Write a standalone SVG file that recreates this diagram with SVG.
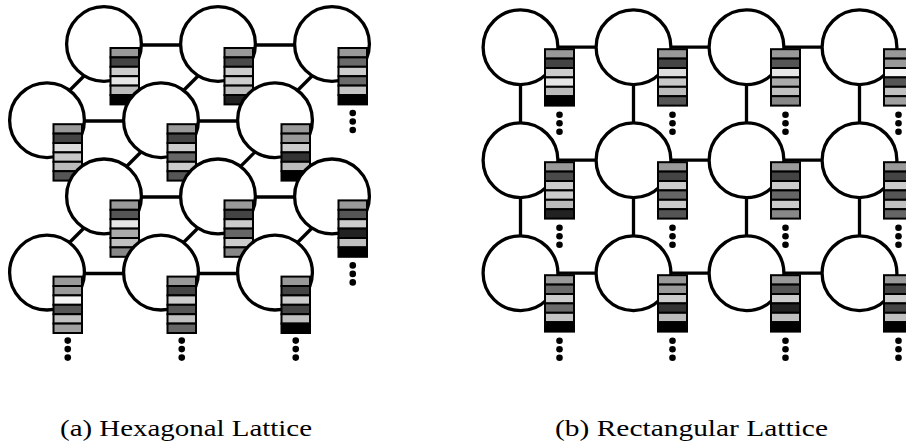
<svg xmlns="http://www.w3.org/2000/svg" width="906" height="446" viewBox="0 0 906 446">
<style>
  .node { fill: #fff; stroke: #000; stroke-width: 3.3; }
  .edge line { stroke: #000; stroke-width: 3.3; }
  .bar { stroke: #000; stroke-width: 2; }
  .dot { fill: #000; }
  .cap { font-family: "Liberation Serif", "Times New Roman", serif; font-size: 24px; fill: #000; }
  .k00 { fill: #000; } .k22 { fill: #222; } .k33 { fill: #333; } .k44 { fill: #444; }
  .k4a { fill: #4a4a4a; } .k55 { fill: #555; } .k66 { fill: #666; } .k6a { fill: #6a6a6a; }
  .k88 { fill: #888; } .k99 { fill: #999; } .ka0 { fill: #a0a0a0; } .kaa { fill: #aaa; }
  .kbb { fill: #bbb; } .kc0 { fill: #c0c0c0; } .kc4 { fill: #c4c4c4; } .kc8 { fill: #c8c8c8; }
  .kcc { fill: #ccc; } .kdd { fill: #ddd; } .ke6 { fill: #e6e6e6; } .kf5 { fill: #f5f5f5; }
</style>

<!-- ===== (a) hexagonal lattice ===== -->
<g id="hex-edges" class="edge">
  <line x1="104" y1="45" x2="218" y2="45"/>
  <line x1="218" y1="45" x2="332" y2="45"/>
  <line x1="47" y1="121" x2="161" y2="121"/>
  <line x1="161" y1="121" x2="275" y2="121"/>
  <line x1="104" y1="197" x2="218" y2="197"/>
  <line x1="218" y1="197" x2="332" y2="197"/>
  <line x1="47" y1="273.5" x2="161" y2="273.5"/>
  <line x1="161" y1="273.5" x2="275" y2="273.5"/>
  <line x1="60" y1="100" x2="95" y2="65"/>
  <line x1="174" y1="100" x2="209" y2="65"/>
  <line x1="288" y1="100" x2="323" y2="65"/>
  <line x1="117" y1="176" x2="150" y2="143"/>
  <line x1="231" y1="176" x2="264" y2="143"/>
  <line x1="60" y1="252" x2="95" y2="217"/>
  <line x1="174" y1="252" x2="209" y2="217"/>
  <line x1="288" y1="252" x2="323" y2="217"/>
</g>

<g id="hex-r1c1" transform="translate(104,44)">
  <circle class="node" r="37.4"/>
  <g class="bar" transform="translate(6.5,4)">
    <rect class="k99" y="0" width="28.5" height="9.4"/><rect class="k44" y="9.4" width="28.5" height="9.4"/>
    <rect class="kcc" y="18.8" width="28.5" height="9.4"/><rect class="ke6" y="28.2" width="28.5" height="9.4"/>
    <rect class="kbb" y="37.6" width="28.5" height="9.4"/><rect class="k00" y="47" width="28.5" height="9.4"/>
  </g>
</g>
<g id="hex-r1c2" transform="translate(218,44)">
  <circle class="node" r="37.4"/>
  <g class="bar" transform="translate(6.5,4)">
    <rect class="k99" y="0" width="28.5" height="9.4"/><rect class="k4a" y="9.4" width="28.5" height="9.4"/>
    <rect class="kcc" y="18.8" width="28.5" height="9.4"/><rect class="kcc" y="28.2" width="28.5" height="9.4"/>
    <rect class="kbb" y="37.6" width="28.5" height="9.4"/><rect class="k22" y="47" width="28.5" height="9.4"/>
  </g>
</g>
<g id="hex-r1c3" transform="translate(332,44)">
  <circle class="node" r="37.4"/>
  <g class="bar" transform="translate(6.5,4)">
    <rect class="k99" y="0" width="28.5" height="9.4"/><rect class="k6a" y="9.4" width="28.5" height="9.4"/>
    <rect class="kcc" y="18.8" width="28.5" height="9.4"/><rect class="k6a" y="28.2" width="28.5" height="9.4"/>
    <rect class="kc4" y="37.6" width="28.5" height="9.4"/><rect class="k00" y="47" width="28.5" height="9.4"/>
  </g>
  <circle class="dot" cx="20.75" cy="69" r="3.3"/><circle class="dot" cx="20.75" cy="77.5" r="3.3"/><circle class="dot" cx="20.75" cy="86" r="3.3"/>
</g>

<g id="hex-r2c1" transform="translate(47,120.2)">
  <circle class="node" r="37.4"/>
  <g class="bar" transform="translate(6.5,4)">
    <rect class="k99" y="0" width="28.5" height="9.4"/><rect class="k44" y="9.4" width="28.5" height="9.4"/>
    <rect class="kdd" y="18.8" width="28.5" height="9.4"/><rect class="kc8" y="28.2" width="28.5" height="9.4"/>
    <rect class="kbb" y="37.6" width="28.5" height="9.4"/><rect class="k55" y="47" width="28.5" height="9.4"/>
  </g>
</g>
<g id="hex-r2c2" transform="translate(161,120.2)">
  <circle class="node" r="37.4"/>
  <g class="bar" transform="translate(6.5,4)">
    <rect class="k99" y="0" width="28.5" height="9.4"/><rect class="k44" y="9.4" width="28.5" height="9.4"/>
    <rect class="kcc" y="18.8" width="28.5" height="9.4"/><rect class="k66" y="28.2" width="28.5" height="9.4"/>
    <rect class="kcc" y="37.6" width="28.5" height="9.4"/><rect class="k55" y="47" width="28.5" height="9.4"/>
  </g>
</g>
<g id="hex-r2c3" transform="translate(275,120.2)">
  <circle class="node" r="37.4"/>
  <g class="bar" transform="translate(6.5,4)">
    <rect class="k99" y="0" width="28.5" height="9.4"/><rect class="k99" y="9.4" width="28.5" height="9.4"/>
    <rect class="kcc" y="18.8" width="28.5" height="9.4"/><rect class="k33" y="28.2" width="28.5" height="9.4"/>
    <rect class="kbb" y="37.6" width="28.5" height="9.4"/><rect class="k00" y="47" width="28.5" height="9.4"/>
  </g>
</g>

<g id="hex-r3c1" transform="translate(104,196.4)">
  <circle class="node" r="37.4"/>
  <g class="bar" transform="translate(6.5,4)">
    <rect class="k99" y="0" width="28.5" height="9.4"/><rect class="k55" y="9.4" width="28.5" height="9.4"/>
    <rect class="ke6" y="18.8" width="28.5" height="9.4"/><rect class="kaa" y="28.2" width="28.5" height="9.4"/>
    <rect class="kc0" y="37.6" width="28.5" height="9.4"/><rect class="k88" y="47" width="28.5" height="9.4"/>
  </g>
</g>
<g id="hex-r3c2" transform="translate(218,196.4)">
  <circle class="node" r="37.4"/>
  <g class="bar" transform="translate(6.5,4)">
    <rect class="k99" y="0" width="28.5" height="9.4"/><rect class="k44" y="9.4" width="28.5" height="9.4"/>
    <rect class="kcc" y="18.8" width="28.5" height="9.4"/><rect class="k66" y="28.2" width="28.5" height="9.4"/>
    <rect class="kcc" y="37.6" width="28.5" height="9.4"/><rect class="k88" y="47" width="28.5" height="9.4"/>
  </g>
</g>
<g id="hex-r3c3" transform="translate(332,196.4)">
  <circle class="node" r="37.4"/>
  <g class="bar" transform="translate(6.5,4)">
    <rect class="k99" y="0" width="28.5" height="9.4"/><rect class="k55" y="9.4" width="28.5" height="9.4"/>
    <rect class="kcc" y="18.8" width="28.5" height="9.4"/><rect class="k22" y="28.2" width="28.5" height="9.4"/>
    <rect class="kc0" y="37.6" width="28.5" height="9.4"/><rect class="k00" y="47" width="28.5" height="9.4"/>
  </g>
  <circle class="dot" cx="20.75" cy="69" r="3.3"/><circle class="dot" cx="20.75" cy="77.5" r="3.3"/><circle class="dot" cx="20.75" cy="86" r="3.3"/>
</g>

<g id="hex-r4c1" transform="translate(47,272.6)">
  <circle class="node" r="37.4"/>
  <g class="bar" transform="translate(6.5,4)">
    <rect class="k99" y="0" width="28.5" height="9.4"/><rect class="k99" y="9.4" width="28.5" height="9.4"/>
    <rect class="kf5" y="18.8" width="28.5" height="9.4"/><rect class="k55" y="28.2" width="28.5" height="9.4"/>
    <rect class="kc0" y="37.6" width="28.5" height="9.4"/><rect class="ka0" y="47" width="28.5" height="9.4"/>
  </g>
  <circle class="dot" cx="20.75" cy="68" r="3.3"/><circle class="dot" cx="20.75" cy="76.5" r="3.3"/><circle class="dot" cx="20.75" cy="85" r="3.3"/>
</g>
<g id="hex-r4c2" transform="translate(161,272.6)">
  <circle class="node" r="37.4"/>
  <g class="bar" transform="translate(6.5,4)">
    <rect class="k99" y="0" width="28.5" height="9.4"/><rect class="k44" y="9.4" width="28.5" height="9.4"/>
    <rect class="kcc" y="18.8" width="28.5" height="9.4"/><rect class="k55" y="28.2" width="28.5" height="9.4"/>
    <rect class="kc0" y="37.6" width="28.5" height="9.4"/><rect class="k66" y="47" width="28.5" height="9.4"/>
  </g>
  <circle class="dot" cx="20.75" cy="68" r="3.3"/><circle class="dot" cx="20.75" cy="76.5" r="3.3"/><circle class="dot" cx="20.75" cy="85" r="3.3"/>
</g>
<g id="hex-r4c3" transform="translate(275,272.6)">
  <circle class="node" r="37.4"/>
  <g class="bar" transform="translate(6.5,4)">
    <rect class="k99" y="0" width="28.5" height="9.4"/><rect class="k44" y="9.4" width="28.5" height="9.4"/>
    <rect class="kcc" y="18.8" width="28.5" height="9.4"/><rect class="k44" y="28.2" width="28.5" height="9.4"/>
    <rect class="kc0" y="37.6" width="28.5" height="9.4"/><rect class="k00" y="47" width="28.5" height="9.4"/>
  </g>
  <circle class="dot" cx="20.75" cy="68" r="3.3"/><circle class="dot" cx="20.75" cy="76.5" r="3.3"/><circle class="dot" cx="20.75" cy="85" r="3.3"/>
</g>

<!-- ===== (b) rectangular lattice ===== -->
<g id="rect-edges" class="edge">
  <line x1="520.5" y1="47.2" x2="859.5" y2="47.2"/>
  <line x1="520.5" y1="160.2" x2="859.5" y2="160.2"/>
  <line x1="520.5" y1="273.2" x2="859.5" y2="273.2"/>
  <line x1="520.5" y1="47.2" x2="520.5" y2="273.2"/>
  <line x1="633.5" y1="47.2" x2="633.5" y2="273.2"/>
  <line x1="746.5" y1="47.2" x2="746.5" y2="273.2"/>
  <line x1="859.5" y1="47.2" x2="859.5" y2="273.2"/>
</g>

<g id="rect-r1c1" transform="translate(520.5,47.2)">
  <circle class="node" r="37.4"/>
  <g class="bar" transform="translate(24.5,2)">
    <rect class="k99" y="0" width="29" height="9.4"/><rect class="k44" y="9.4" width="29" height="9.4"/>
    <rect class="kcc" y="18.8" width="29" height="9.4"/><rect class="ke6" y="28.2" width="29" height="9.4"/>
    <rect class="kbb" y="37.6" width="29" height="9.4"/><rect class="k00" y="47" width="29" height="9.4"/>
  </g>
  <circle class="dot" cx="39" cy="67.5" r="3.3"/><circle class="dot" cx="39" cy="76" r="3.3"/><circle class="dot" cx="39" cy="84.5" r="3.3"/>
</g>
<g id="rect-r1c2" transform="translate(633.5,47.2)">
  <circle class="node" r="37.4"/>
  <g class="bar" transform="translate(24.5,2)">
    <rect class="k99" y="0" width="29" height="9.4"/><rect class="k44" y="9.4" width="29" height="9.4"/>
    <rect class="kdd" y="18.8" width="29" height="9.4"/><rect class="kc8" y="28.2" width="29" height="9.4"/>
    <rect class="kbb" y="37.6" width="29" height="9.4"/><rect class="k55" y="47" width="29" height="9.4"/>
  </g>
  <circle class="dot" cx="39" cy="67.5" r="3.3"/><circle class="dot" cx="39" cy="76" r="3.3"/><circle class="dot" cx="39" cy="84.5" r="3.3"/>
</g>
<g id="rect-r1c3" transform="translate(746.5,47.2)">
  <circle class="node" r="37.4"/>
  <g class="bar" transform="translate(24.5,2)">
    <rect class="k99" y="0" width="29" height="9.4"/><rect class="k55" y="9.4" width="29" height="9.4"/>
    <rect class="ke6" y="18.8" width="29" height="9.4"/><rect class="kaa" y="28.2" width="29" height="9.4"/>
    <rect class="kc0" y="37.6" width="29" height="9.4"/><rect class="k88" y="47" width="29" height="9.4"/>
  </g>
  <circle class="dot" cx="39" cy="67.5" r="3.3"/><circle class="dot" cx="39" cy="76" r="3.3"/><circle class="dot" cx="39" cy="84.5" r="3.3"/>
</g>
<g id="rect-r1c4" transform="translate(859.5,47.2)">
  <circle class="node" r="37.4"/>
  <g class="bar" transform="translate(24.5,2)">
    <rect class="k99" y="0" width="29" height="9.4"/><rect class="k99" y="9.4" width="29" height="9.4"/>
    <rect class="kf5" y="18.8" width="29" height="9.4"/><rect class="k55" y="28.2" width="29" height="9.4"/>
    <rect class="kc0" y="37.6" width="29" height="9.4"/><rect class="ka0" y="47" width="29" height="9.4"/>
  </g>
  <circle class="dot" cx="39" cy="67.5" r="3.3"/><circle class="dot" cx="39" cy="76" r="3.3"/><circle class="dot" cx="39" cy="84.5" r="3.3"/>
</g>

<g id="rect-r2c1" transform="translate(520.5,160.2)">
  <circle class="node" r="37.4"/>
  <g class="bar" transform="translate(24.5,2)">
    <rect class="k99" y="0" width="29" height="9.4"/><rect class="k4a" y="9.4" width="29" height="9.4"/>
    <rect class="kcc" y="18.8" width="29" height="9.4"/><rect class="kcc" y="28.2" width="29" height="9.4"/>
    <rect class="kbb" y="37.6" width="29" height="9.4"/><rect class="k22" y="47" width="29" height="9.4"/>
  </g>
  <circle class="dot" cx="39" cy="67.5" r="3.3"/><circle class="dot" cx="39" cy="76" r="3.3"/><circle class="dot" cx="39" cy="84.5" r="3.3"/>
</g>
<g id="rect-r2c2" transform="translate(633.5,160.2)">
  <circle class="node" r="37.4"/>
  <g class="bar" transform="translate(24.5,2)">
    <rect class="k99" y="0" width="29" height="9.4"/><rect class="k44" y="9.4" width="29" height="9.4"/>
    <rect class="kcc" y="18.8" width="29" height="9.4"/><rect class="k66" y="28.2" width="29" height="9.4"/>
    <rect class="kcc" y="37.6" width="29" height="9.4"/><rect class="k55" y="47" width="29" height="9.4"/>
  </g>
  <circle class="dot" cx="39" cy="67.5" r="3.3"/><circle class="dot" cx="39" cy="76" r="3.3"/><circle class="dot" cx="39" cy="84.5" r="3.3"/>
</g>
<g id="rect-r2c3" transform="translate(746.5,160.2)">
  <circle class="node" r="37.4"/>
  <g class="bar" transform="translate(24.5,2)">
    <rect class="k99" y="0" width="29" height="9.4"/><rect class="k44" y="9.4" width="29" height="9.4"/>
    <rect class="kcc" y="18.8" width="29" height="9.4"/><rect class="k66" y="28.2" width="29" height="9.4"/>
    <rect class="kcc" y="37.6" width="29" height="9.4"/><rect class="k88" y="47" width="29" height="9.4"/>
  </g>
  <circle class="dot" cx="39" cy="67.5" r="3.3"/><circle class="dot" cx="39" cy="76" r="3.3"/><circle class="dot" cx="39" cy="84.5" r="3.3"/>
</g>
<g id="rect-r2c4" transform="translate(859.5,160.2)">
  <circle class="node" r="37.4"/>
  <g class="bar" transform="translate(24.5,2)">
    <rect class="k99" y="0" width="29" height="9.4"/><rect class="k44" y="9.4" width="29" height="9.4"/>
    <rect class="kcc" y="18.8" width="29" height="9.4"/><rect class="k55" y="28.2" width="29" height="9.4"/>
    <rect class="kc0" y="37.6" width="29" height="9.4"/><rect class="k66" y="47" width="29" height="9.4"/>
  </g>
  <circle class="dot" cx="39" cy="67.5" r="3.3"/><circle class="dot" cx="39" cy="76" r="3.3"/><circle class="dot" cx="39" cy="84.5" r="3.3"/>
</g>

<g id="rect-r3c1" transform="translate(520.5,273.2)">
  <circle class="node" r="37.4"/>
  <g class="bar" transform="translate(24.5,2)">
    <rect class="k99" y="0" width="29" height="9.4"/><rect class="k6a" y="9.4" width="29" height="9.4"/>
    <rect class="kcc" y="18.8" width="29" height="9.4"/><rect class="k6a" y="28.2" width="29" height="9.4"/>
    <rect class="kc4" y="37.6" width="29" height="9.4"/><rect class="k00" y="47" width="29" height="9.4"/>
  </g>
  <circle class="dot" cx="39" cy="67.5" r="3.3"/><circle class="dot" cx="39" cy="76" r="3.3"/><circle class="dot" cx="39" cy="84.5" r="3.3"/>
</g>
<g id="rect-r3c2" transform="translate(633.5,273.2)">
  <circle class="node" r="37.4"/>
  <g class="bar" transform="translate(24.5,2)">
    <rect class="k99" y="0" width="29" height="9.4"/><rect class="k99" y="9.4" width="29" height="9.4"/>
    <rect class="kcc" y="18.8" width="29" height="9.4"/><rect class="k33" y="28.2" width="29" height="9.4"/>
    <rect class="kbb" y="37.6" width="29" height="9.4"/><rect class="k00" y="47" width="29" height="9.4"/>
  </g>
  <circle class="dot" cx="39" cy="67.5" r="3.3"/><circle class="dot" cx="39" cy="76" r="3.3"/><circle class="dot" cx="39" cy="84.5" r="3.3"/>
</g>
<g id="rect-r3c3" transform="translate(746.5,273.2)">
  <circle class="node" r="37.4"/>
  <g class="bar" transform="translate(24.5,2)">
    <rect class="k99" y="0" width="29" height="9.4"/><rect class="k55" y="9.4" width="29" height="9.4"/>
    <rect class="kcc" y="18.8" width="29" height="9.4"/><rect class="k22" y="28.2" width="29" height="9.4"/>
    <rect class="kc0" y="37.6" width="29" height="9.4"/><rect class="k00" y="47" width="29" height="9.4"/>
  </g>
  <circle class="dot" cx="39" cy="67.5" r="3.3"/><circle class="dot" cx="39" cy="76" r="3.3"/><circle class="dot" cx="39" cy="84.5" r="3.3"/>
</g>
<g id="rect-r3c4" transform="translate(859.5,273.2)">
  <circle class="node" r="37.4"/>
  <g class="bar" transform="translate(24.5,2)">
    <rect class="k99" y="0" width="29" height="9.4"/><rect class="k44" y="9.4" width="29" height="9.4"/>
    <rect class="kcc" y="18.8" width="29" height="9.4"/><rect class="k44" y="28.2" width="29" height="9.4"/>
    <rect class="kc0" y="37.6" width="29" height="9.4"/><rect class="k00" y="47" width="29" height="9.4"/>
  </g>
  <circle class="dot" cx="39" cy="67.5" r="3.3"/><circle class="dot" cx="39" cy="76" r="3.3"/><circle class="dot" cx="39" cy="84.5" r="3.3"/>
</g>

<!-- captions -->
<text class="cap" x="60" y="436" textLength="252" lengthAdjust="spacingAndGlyphs">(a) Hexagonal Lattice</text>
<text class="cap" x="555" y="436" textLength="273" lengthAdjust="spacingAndGlyphs">(b) Rectangular Lattice</text>
</svg>
